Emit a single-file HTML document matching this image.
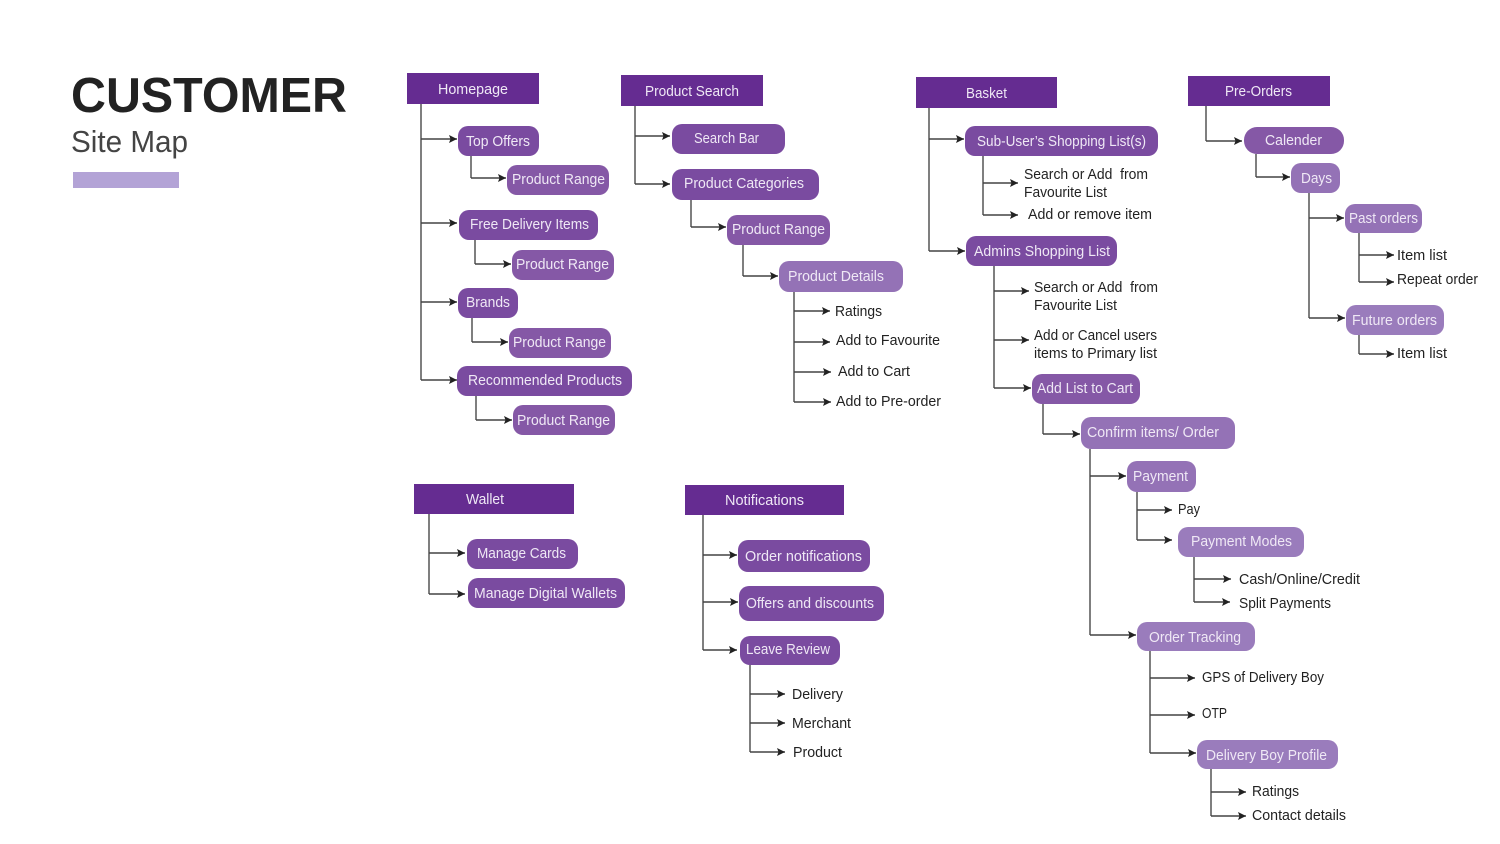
<!DOCTYPE html>
<html><head><meta charset="utf-8"><style>
html,body{margin:0;padding:0;background:#fff;width:1500px;height:844px;overflow:hidden}
svg{display:block;font-family:"Liberation Sans",sans-serif;filter:blur(0.35px)}
.h{fill:#652c91}.a{fill:#7a4ba0}.b{fill:#8558a6}.c{fill:#9472b6}.d{fill:#9a7cbc}
.t{fill:#efe8f5;font-size:14.5px}
.k{fill:#222;font-size:14.5px}
.l{fill:none;stroke:#444;stroke-width:1.4;marker-end:url(#ar)}
.v{fill:none;stroke:#555;stroke-width:1.5}
</style></head><body>
<svg width="1500" height="844" viewBox="0 0 1500 844" xmlns="http://www.w3.org/2000/svg">
<defs><marker id="ar" markerUnits="userSpaceOnUse" markerWidth="9" markerHeight="9" refX="8" refY="4.5" orient="auto"><path d="M0 0.5L8 4.5L0 8.5L1.5 4.5Z" fill="#222"/></marker></defs>

<text x="71" y="112" font-size="49" font-weight="700" fill="#222" textLength="276" lengthAdjust="spacingAndGlyphs">CUSTOMER</text>
<text x="71" y="152" font-size="31" fill="#444" textLength="117" lengthAdjust="spacingAndGlyphs">Site Map</text>
<rect x="73" y="172" width="106" height="16" fill="#b3a3d6"/>

<!-- connectors -->
<path class="v" d="M421 104V380M471 156V178M475 240V264M472 318V342M476 396V420"/>
<path class="l" d="M421 139H457"/><path class="l" d="M421 223H457"/><path class="l" d="M421 302H457"/><path class="l" d="M421 380H457"/>
<path class="l" d="M471 178H506"/><path class="l" d="M475 264H511"/><path class="l" d="M472 342H508"/><path class="l" d="M476 420H512"/>

<path class="v" d="M635 106V184M691 200V227M743 245V276M794 292V402"/>
<path class="l" d="M635 136H670"/><path class="l" d="M635 184H670"/><path class="l" d="M691 227H726"/><path class="l" d="M743 276H778"/>
<path class="l" d="M794 311H830"/><path class="l" d="M794 342H830"/><path class="l" d="M794 372H831"/><path class="l" d="M794 402H831"/>

<path class="v" d="M929 108V251M983 156V215M994 266V388M1043 404V434M1090 449V635M1137 492V540M1194 557V602M1150 651V753M1211 769V816"/>
<path class="l" d="M929 139H964"/><path class="l" d="M929 251H965"/><path class="l" d="M983 183H1018"/><path class="l" d="M983 215H1018"/>
<path class="l" d="M994 291H1029"/><path class="l" d="M994 340H1029"/><path class="l" d="M994 388H1031"/><path class="l" d="M1043 434H1080"/>
<path class="l" d="M1090 476H1126"/><path class="l" d="M1090 635H1136"/><path class="l" d="M1137 510H1172"/><path class="l" d="M1137 540H1172"/>
<path class="l" d="M1194 579H1231"/><path class="l" d="M1194 602H1230"/><path class="l" d="M1150 678H1195"/><path class="l" d="M1150 715H1195"/><path class="l" d="M1150 753H1196"/>
<path class="l" d="M1211 792H1246"/><path class="l" d="M1211 816H1246"/>

<path class="v" d="M1206 106V141M1256 154V177M1309 193V318M1359 233V282M1359 335V354"/>
<path class="l" d="M1206 141H1242"/><path class="l" d="M1256 177H1290"/><path class="l" d="M1309 218H1344"/><path class="l" d="M1309 318H1345"/>
<path class="l" d="M1359 255H1394"/><path class="l" d="M1359 282H1394"/><path class="l" d="M1359 354H1394"/>

<path class="v" d="M429 514V594M703 515V650M750 665V752"/>
<path class="l" d="M429 553H465"/><path class="l" d="M429 594H465"/>
<path class="l" d="M703 555H737"/><path class="l" d="M703 602H738"/><path class="l" d="M703 650H737"/>
<path class="l" d="M750 694H785"/><path class="l" d="M750 723H785"/><path class="l" d="M750 752H785"/>

<!-- headers -->
<rect class="h" x="407" y="73" width="132" height="31"/><text class="t" x="438" y="94" textLength="70" lengthAdjust="spacingAndGlyphs">Homepage</text>
<rect class="h" x="621" y="75" width="142" height="31"/><text class="t" x="645" y="96" textLength="94" lengthAdjust="spacingAndGlyphs">Product Search</text>
<rect class="h" x="916" y="77" width="141" height="31"/><text class="t" x="966" y="98" textLength="41" lengthAdjust="spacingAndGlyphs">Basket</text>
<rect class="h" x="1188" y="76" width="142" height="30"/><text class="t" x="1225" y="96" textLength="67" lengthAdjust="spacingAndGlyphs">Pre-Orders</text>
<rect class="h" x="414" y="484" width="160" height="30"/><text class="t" x="466" y="504" textLength="38" lengthAdjust="spacingAndGlyphs">Wallet</text>
<rect class="h" x="685" y="485" width="159" height="30"/><text class="t" x="725" y="505" textLength="79" lengthAdjust="spacingAndGlyphs">Notifications</text>

<!-- homepage nodes -->
<rect class="a" x="458" y="126" width="81" height="30" rx="10"/><text class="t" x="466" y="146" textLength="64" lengthAdjust="spacingAndGlyphs">Top Offers</text>
<rect class="b" x="507" y="165" width="102" height="30" rx="10"/><text class="t" x="512" y="184" textLength="93" lengthAdjust="spacingAndGlyphs">Product Range</text>
<rect class="a" x="459" y="210" width="139" height="30" rx="10"/><text class="t" x="470" y="229" textLength="119" lengthAdjust="spacingAndGlyphs">Free Delivery Items</text>
<rect class="b" x="512" y="250" width="102" height="30" rx="10"/><text class="t" x="516" y="269" textLength="93" lengthAdjust="spacingAndGlyphs">Product Range</text>
<rect class="a" x="458" y="288" width="60" height="30" rx="10"/><text class="t" x="466" y="307" textLength="44" lengthAdjust="spacingAndGlyphs">Brands</text>
<rect class="b" x="509" y="328" width="102" height="30" rx="10"/><text class="t" x="513" y="347" textLength="93" lengthAdjust="spacingAndGlyphs">Product Range</text>
<rect class="a" x="457" y="366" width="175" height="30" rx="10"/><text class="t" x="468" y="385" textLength="154" lengthAdjust="spacingAndGlyphs">Recommended Products</text>
<rect class="b" x="513" y="405" width="102" height="30" rx="10"/><text class="t" x="517" y="425" textLength="93" lengthAdjust="spacingAndGlyphs">Product Range</text>

<!-- product search -->
<rect class="a" x="672" y="124" width="113" height="30" rx="10"/><text class="t" x="694" y="143" textLength="65" lengthAdjust="spacingAndGlyphs">Search Bar</text>
<rect class="a" x="672" y="169" width="147" height="31" rx="10"/><text class="t" x="684" y="188" textLength="120" lengthAdjust="spacingAndGlyphs">Product Categories</text>
<rect class="b" x="727" y="215" width="103" height="30" rx="10"/><text class="t" x="732" y="234" textLength="93" lengthAdjust="spacingAndGlyphs">Product Range</text>
<rect class="c" x="779" y="261" width="124" height="31" rx="10"/><text class="t" x="788" y="281" textLength="96" lengthAdjust="spacingAndGlyphs">Product Details</text>
<text class="k" x="835" y="316" textLength="47" lengthAdjust="spacingAndGlyphs">Ratings</text>
<text class="k" x="836" y="345" textLength="104" lengthAdjust="spacingAndGlyphs">Add to Favourite</text>
<text class="k" x="838" y="376" textLength="72" lengthAdjust="spacingAndGlyphs">Add to Cart</text>
<text class="k" x="836" y="406" textLength="105" lengthAdjust="spacingAndGlyphs">Add to Pre-order</text>

<!-- basket -->
<rect class="a" x="965" y="126" width="193" height="30" rx="10"/><text class="t" x="977" y="146" textLength="169" lengthAdjust="spacingAndGlyphs">Sub-User’s Shopping List(s)</text>
<text class="k" x="1024" y="179" textLength="124" lengthAdjust="spacingAndGlyphs">Search or Add&#160; from</text>
<text class="k" x="1024" y="197" textLength="83" lengthAdjust="spacingAndGlyphs">Favourite List</text>
<text class="k" x="1028" y="219" textLength="124" lengthAdjust="spacingAndGlyphs">Add or remove item</text>
<rect class="a" x="966" y="236" width="151" height="30" rx="10"/><text class="t" x="974" y="256" textLength="136" lengthAdjust="spacingAndGlyphs">Admins Shopping List</text>
<text class="k" x="1034" y="292" textLength="124" lengthAdjust="spacingAndGlyphs">Search or Add&#160; from</text>
<text class="k" x="1034" y="310" textLength="83" lengthAdjust="spacingAndGlyphs">Favourite List</text>
<text class="k" x="1034" y="340" textLength="123" lengthAdjust="spacingAndGlyphs">Add or Cancel users</text>
<text class="k" x="1034" y="358" textLength="123" lengthAdjust="spacingAndGlyphs">items to Primary list</text>
<rect class="b" x="1032" y="374" width="108" height="30" rx="10"/><text class="t" x="1037" y="393" textLength="96" lengthAdjust="spacingAndGlyphs">Add List to Cart</text>
<rect class="c" x="1081" y="417" width="154" height="32" rx="10"/><text class="t" x="1087" y="437" textLength="132" lengthAdjust="spacingAndGlyphs">Confirm items/ Order</text>
<rect class="c" x="1127" y="461" width="69" height="31" rx="10"/><text class="t" x="1133" y="481" textLength="55" lengthAdjust="spacingAndGlyphs">Payment</text>
<text class="k" x="1178" y="514" textLength="22" lengthAdjust="spacingAndGlyphs">Pay</text>
<rect class="d" x="1178" y="527" width="126" height="30" rx="10"/><text class="t" x="1191" y="546" textLength="101" lengthAdjust="spacingAndGlyphs">Payment Modes</text>
<text class="k" x="1239" y="584" textLength="121" lengthAdjust="spacingAndGlyphs">Cash/Online/Credit</text>
<text class="k" x="1239" y="608" textLength="92" lengthAdjust="spacingAndGlyphs">Split Payments</text>
<rect class="d" x="1137" y="622" width="118" height="29" rx="10"/><text class="t" x="1149" y="642" textLength="92" lengthAdjust="spacingAndGlyphs">Order Tracking</text>
<text class="k" x="1202" y="682" textLength="122" lengthAdjust="spacingAndGlyphs">GPS of Delivery Boy</text>
<text class="k" x="1202" y="718" textLength="25" lengthAdjust="spacingAndGlyphs">OTP</text>
<rect class="d" x="1197" y="740" width="141" height="29" rx="10"/><text class="t" x="1206" y="760" textLength="121" lengthAdjust="spacingAndGlyphs">Delivery Boy Profile</text>
<text class="k" x="1252" y="796" textLength="47" lengthAdjust="spacingAndGlyphs">Ratings</text>
<text class="k" x="1252" y="820" textLength="94" lengthAdjust="spacingAndGlyphs">Contact details</text>

<!-- pre-orders -->
<rect class="b" x="1244" y="127" width="100" height="27" rx="13"/><text class="t" x="1265" y="145" textLength="57" lengthAdjust="spacingAndGlyphs">Calender</text>
<rect class="c" x="1291" y="163" width="49" height="30" rx="10"/><text class="t" x="1301" y="183" textLength="31" lengthAdjust="spacingAndGlyphs">Days</text>
<rect class="c" x="1345" y="204" width="77" height="29" rx="10"/><text class="t" x="1349" y="223" textLength="69" lengthAdjust="spacingAndGlyphs">Past orders</text>
<text class="k" x="1397" y="260" textLength="50" lengthAdjust="spacingAndGlyphs">Item list</text>
<text class="k" x="1397" y="284" textLength="81" lengthAdjust="spacingAndGlyphs">Repeat order</text>
<rect class="d" x="1346" y="305" width="98" height="30" rx="10"/><text class="t" x="1352" y="325" textLength="85" lengthAdjust="spacingAndGlyphs">Future orders</text>
<text class="k" x="1397" y="358" textLength="50" lengthAdjust="spacingAndGlyphs">Item list</text>

<!-- wallet -->
<rect class="a" x="467" y="539" width="111" height="30" rx="10"/><text class="t" x="477" y="558" textLength="89" lengthAdjust="spacingAndGlyphs">Manage Cards</text>
<rect class="a" x="468" y="578" width="157" height="30" rx="10"/><text class="t" x="474" y="598" textLength="143" lengthAdjust="spacingAndGlyphs">Manage Digital Wallets</text>

<!-- notifications -->
<rect class="a" x="738" y="540" width="132" height="32" rx="10"/><text class="t" x="745" y="561" textLength="117" lengthAdjust="spacingAndGlyphs">Order notifications</text>
<rect class="a" x="739" y="586" width="145" height="35" rx="10"/><text class="t" x="746" y="608" textLength="128" lengthAdjust="spacingAndGlyphs">Offers and discounts</text>
<rect class="a" x="740" y="636" width="100" height="29" rx="10"/><text class="t" x="746" y="654" textLength="84" lengthAdjust="spacingAndGlyphs">Leave Review</text>
<text class="k" x="792" y="699" textLength="51" lengthAdjust="spacingAndGlyphs">Delivery</text>
<text class="k" x="792" y="728" textLength="59" lengthAdjust="spacingAndGlyphs">Merchant</text>
<text class="k" x="793" y="757" textLength="49" lengthAdjust="spacingAndGlyphs">Product</text>
</svg>
</body></html>
